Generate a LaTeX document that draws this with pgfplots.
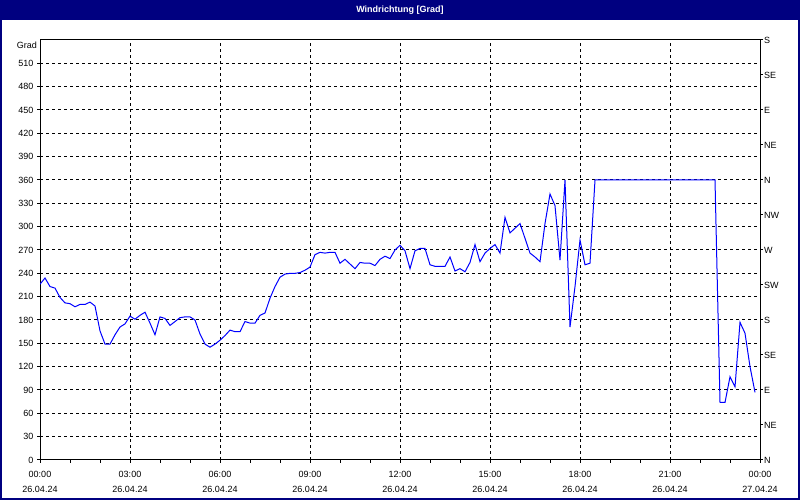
\documentclass[border=0pt]{standalone}
\usepackage{fontspec}
\setmainfont{Liberation Sans}
\usepackage{pgfplots}
\pgfplotsset{compat=1.18}
\definecolor{titlenavy}{RGB}{0,0,128}
\definecolor{lineblue}{RGB}{0,0,255}

% wind direction, 10-minute samples (index k -> k*10 min after 00:00)
\pgfplotstableread{
k   deg
0   226
1   234
2   223
3   221
4   209
5   202
6   201
7   197
8   200
9   200
10  203
11  198
12  166
13  149
14  149
15  161
16  171
17  175
18  185
19  181
20  186
21  190
22  176
23  161
24  184
25  182
26  173
27  178
28  183
29  184
30  184
31  180
32  162
33  149
34  145
35  149
36  154
37  160
38  167
39  165
40  165
41  178
42  176
43  176
44  186
45  189
46  208
47  223
48  235
49  239
50  240
51  240
52  241
53  244
54  248
55  264
56  267
57  266
58  267
59  267
60  253
61  258
62  252
63  246
64  254
65  253
66  253
67  250
68  258
69  262
70  259
71  270
72  276
73  269
74  246
75  269
76  272
77  272
78  251
79  249
80  249
81  249
82  261
83  243
84  246
85  242
86  254
87  277
88  255
89  266
90  272
91  277
92  266
93  312
94  292
95  298
96  304
97  285
98  266
99  261
100 255
101 304
102 342
103 327
104 257
105 360
106 171
107 223
108 283
109 251
110 253
111 360
135 360
136 74
137 74
138 107
139 94
140 177
141 163
142 120
143 87
}\winddata

\begin{document}
\begin{tikzpicture}[x=1pt,y=1pt]
\useasboundingbox (0,0) rectangle (800,500);
\fill[white] (0,0) rectangle (800,500);
\fill[titlenavy] (0,480) rectangle (800,500);
\draw[titlenavy, line width=2pt] (1,1) rectangle (799,499);
\node[text=white, font=\fontsize{9}{11}\selectfont\bfseries] at (400,490) {Windrichtung [Grad]};

\begin{axis}[
    name=main,
    at={(40pt,40pt)}, anchor=south west,
    scale only axis, width=720pt, height=420pt,
    xmin=0, xmax=144, ymin=0, ymax=540,
    axis line style={black, line width=1pt},
    tick style={black, line width=1pt},
    major tick length=3pt, minor tick length=3pt,
    tick align=outside,
    xtick pos=bottom, ytick pos=left,
    xtick={0,18,...,144}, minor x tick num=2,
    xticklabels={{00:00\\26.04.24},{03:00\\26.04.24},{06:00\\26.04.24},
                 {09:00\\26.04.24},{12:00\\26.04.24},{15:00\\26.04.24},
                 {18:00\\26.04.24},{21:00\\26.04.24},{00:00\\27.04.24}},
    xticklabel style={align=center, yshift=-5pt, font=\fontsize{9}{15}\selectfont},
    ytick={0,30,...,510},
    yticklabel style={font=\fontsize{9}{11}\selectfont},
    /pgf/number format/assume math mode=true,
    grid=major,
    major grid style={black, line width=1pt, dash pattern=on 3pt off 3pt},
]
\addplot[lineblue, line width=1pt] table[x=k, y=deg] {\winddata};
\end{axis}

\begin{axis}[
    at={(40pt,40pt)}, anchor=south west,
    scale only axis, width=720pt, height=420pt,
    xmin=0, xmax=144, ymin=0, ymax=540,
    hide x axis,
    axis y line*=right,
    axis line style={black, line width=1pt},
    tick style={black, line width=1pt},
    major tick length=3pt, tick align=outside,
    ytick={0,45,...,540},
    yticklabels={N,NE,E,SE,S,SW,W,NW,N,NE,E,SE,S},
    yticklabel style={anchor=west, inner sep=1pt, font=\fontsize{9}{11}\selectfont},
]
\end{axis}
\node[anchor=east, inner sep=0pt, font=\fontsize{9}{11}\selectfont]
    at ([xshift=-3pt, yshift=-5pt]main.north west) {Grad};
\end{tikzpicture}
\end{document}
